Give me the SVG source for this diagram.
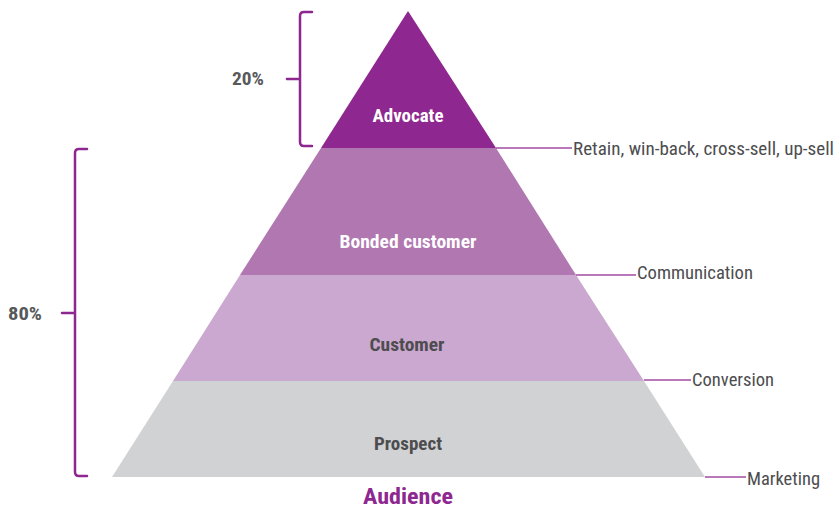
<svg xmlns="http://www.w3.org/2000/svg" width="838" height="508" viewBox="0 0 838 508">
<style>
text{font-family:"Roboto Condensed",Roboto,"Liberation Sans",sans-serif;}
.in{font-size:18px;font-weight:700;text-anchor:middle;}
.w{fill:#ffffff;}
.d{fill:#4d4d4f;}
.lab{font-size:18.5px;fill:#4d4d4f;}
.pct{font-size:17.5px;font-weight:700;fill:#58595b;}
.lead{stroke:#a24ba3;stroke-width:1.6;fill:none;}
.br{stroke:#8e278f;stroke-width:2.5;fill:none;stroke-linecap:round;stroke-linejoin:round;}
</style>
<rect width="838" height="508" fill="#ffffff"/>
<g id="prospect">
<polygon points="173,381 644,381 705,477 112,477" fill="#d1d2d4"/>
<text class="in d" x="408" y="450" textLength="68" lengthAdjust="spacingAndGlyphs">Prospect</text>
</g>
<g id="customer">
<polygon points="240,275 576,275 644,381 173,381" fill="#cba8cf"/>
<text class="in d" x="407" y="351" textLength="75" lengthAdjust="spacingAndGlyphs">Customer</text>
</g>
<g id="bonded">
<polygon points="321,148 496,148 576,275 240,275" fill="#b077b0"/>
<text class="in w" x="408" y="248" textLength="137" lengthAdjust="spacingAndGlyphs">Bonded customer</text>
</g>
<g id="advocate">
<polygon points="408,11 496,148 321,148" fill="#8e278f"/>
<text class="in w" x="408" y="122" textLength="71" lengthAdjust="spacingAndGlyphs">Advocate</text>
</g>
<g id="connectors">
<line class="lead" x1="496" y1="148" x2="572" y2="148"/>
<line class="lead" x1="576" y1="275" x2="636" y2="275"/>
<line class="lead" x1="644" y1="380" x2="691" y2="380"/>
<line class="lead" x1="705" y1="477" x2="746" y2="477"/>
</g>
<g id="labels">
<text class="lab" x="573" y="155" textLength="261" lengthAdjust="spacingAndGlyphs">Retain, win-back, cross-sell, up-sell</text>
<text class="lab" x="637" y="279" textLength="116" lengthAdjust="spacingAndGlyphs">Communication</text>
<text class="lab" x="692" y="386" textLength="82" lengthAdjust="spacingAndGlyphs">Conversion</text>
<text class="lab" x="747" y="485" textLength="73" lengthAdjust="spacingAndGlyphs">Marketing</text>
</g>
<g id="bracket-20">
<path class="br" d="M312,12 L304,12 Q300,12 300,16 L300,142 Q300,146 304,146 L312,146 M287,79 L300,79"/>
<text class="pct" x="232" y="85" textLength="32" lengthAdjust="spacingAndGlyphs">20%</text>
</g>
<g id="bracket-80">
<path class="br" d="M87,149 L79,149 Q75,149 75,153 L75,472 Q75,476 79,476 L87,476 M62,313 L75,313"/>
<text class="pct" x="8" y="320" textLength="34" lengthAdjust="spacingAndGlyphs">80%</text>
</g>
<g id="audience">
<text x="408" y="504" font-size="22" font-weight="700" fill="#8e278f" text-anchor="middle" textLength="90" lengthAdjust="spacingAndGlyphs">Audience</text>
</g>
</svg>
